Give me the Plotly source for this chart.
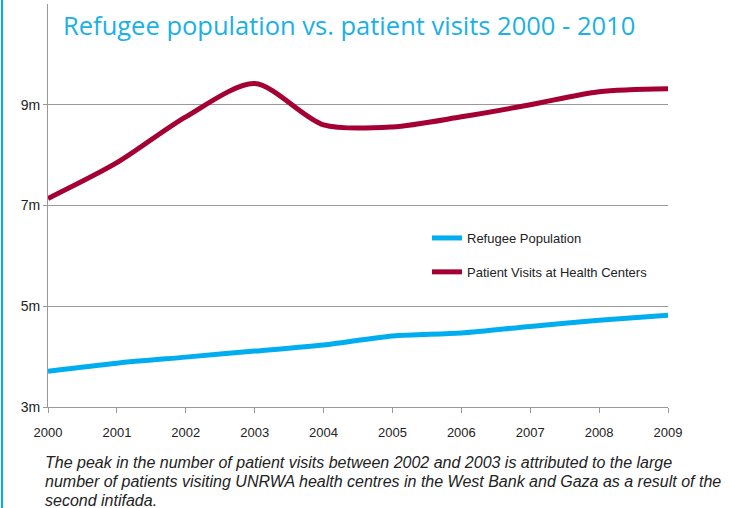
import plotly.graph_objects as go

years = [2000, 2001, 2002, 2003, 2004, 2005, 2006, 2007, 2008, 2009]
refugee_population = [3.71, 3.87, 3.99, 4.11, 4.23, 4.41, 4.47, 4.60, 4.72, 4.82]
patient_visits = [7.14, 7.85, 8.76, 9.42, 8.60, 8.56, 8.76, 9.00, 9.26, 9.32]
y_tick_vals = [3, 5, 7, 9]
y_tick_text = ["3m", "5m", "7m", "9m"]

title_text = "Refugee population vs. patient visits 2000 - 2010"
caption_lines = [
    "The peak in the number of patient visits between 2002 and 2003 is attributed to the large",
    "number of patients visiting UNRWA health centres in the West Bank and Gaza as a result of the",
    "second intifada.",
]

BLUE = "#00aeef"
RED = "#a50034"

PW, PH = 620, 403  # plot area size in px
L, T = 48, 4

fig = go.Figure()
fig.add_trace(go.Scatter(x=years, y=refugee_population, mode="lines", name="Refugee Population",
                         legendgroup="a",
                         line=dict(color=BLUE, width=5, shape="spline", smoothing=0.8)))
fig.add_trace(go.Scatter(x=years, y=patient_visits, mode="lines", name="Patient Visits at Health Centers",
                         legendgroup="b",
                         line=dict(color=RED, width=5, shape="spline", smoothing=0.8)))

fig.update_layout(
    width=735, height=508,
    margin=dict(l=L, r=735 - L - PW, t=T, b=508 - T - PH),
    paper_bgcolor="white", plot_bgcolor="white",
    font=dict(family="Liberation Sans, Arial", color="#222"),
    showlegend=True,
    legend=dict(x=(427 - L) / PW, y=(407 - 255) / PH, xanchor="left", yanchor="middle",
                font=dict(size=13, color="#222"), tracegroupgap=14,
                bgcolor="rgba(0,0,0,0)", itemwidth=30),
    xaxis=dict(range=[2000, 2009], tickvals=years, ticktext=[str(y) for y in years],
               showgrid=False, zeroline=False, showline=True, linecolor="#999", linewidth=1,
               ticks="outside", ticklen=5, tickcolor="#999", ticklabelstandoff=8,
               tickfont=dict(size=13, color="#222")),
    yaxis=dict(range=[3, 11], tickvals=y_tick_vals, ticktext=y_tick_text,
               showgrid=True, gridcolor="#999", gridwidth=1, zeroline=False,
               showline=True, linecolor="#999", linewidth=1,
               ticks="outside", ticklen=4, tickcolor="#999", tickfont=dict(size=14, color="#222")),
)

def px_x(px):
    return (px - L) / PW

def px_y(py):
    return (T + PH - py) / PH

fig.add_annotation(text=title_text, xref="paper", yref="paper", x=px_x(61), y=px_y(25),
                   xanchor="left", yanchor="middle", showarrow=False,
                   font=dict(family="Open Sans", size=25.5, color="#1ab0e8"))
for i, line in enumerate(caption_lines):
    fig.add_annotation(text="<i>" + line + "</i>", xref="paper", yref="paper",
                       x=px_x(43), y=px_y(462 + 19 * i),
                       xanchor="left", yanchor="middle", showarrow=False, align="left",
                       font=dict(family="Liberation Sans", size=16, color="#222"))

fig.add_shape(type="line", xref="paper", yref="paper", x0=px_x(2), x1=px_x(2),
              y0=px_y(508), y1=px_y(0), line=dict(color=BLUE, width=2))

fig.write_html("out.html", config={"displayModeBar": False},
               post_script="document.body.style.margin='0';")
